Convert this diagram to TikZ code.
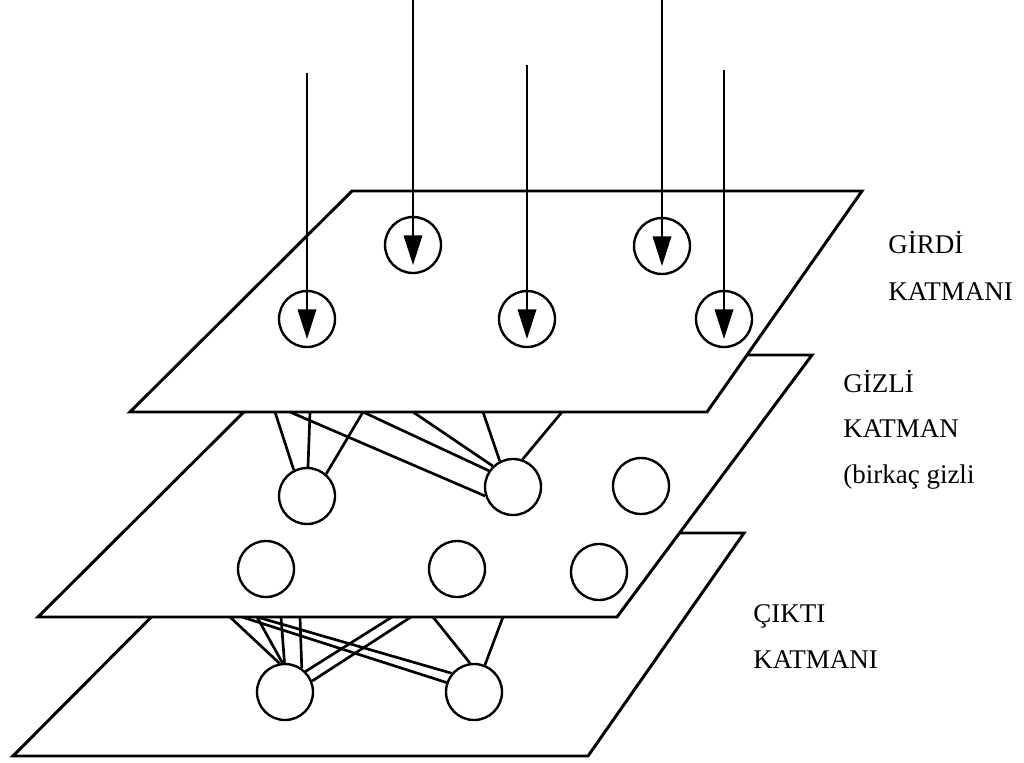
\documentclass[tikz,border=0pt]{standalone}
\usepackage{fontspec}
\setmainfont{Liberation Serif}
\usepackage{tikz}
\usetikzlibrary{arrows.meta}

\tikzset{
  plane/.style={draw, line width=2.1pt, fill=white, line join=miter},
  unit/.style={circle, draw, line width=1.7pt, fill=white, minimum size=1.4cm, inner sep=0pt},
  link/.style={line width=1.9pt},
  feed/.style={line width=1.8pt, -{Triangle[length=21pt,width=13pt]}},
  lbl/.style={anchor=base west, inner sep=0pt, font=\fontsize{19.2}{22}\selectfont}
}

\begin{document}
\begin{tikzpicture}[x=0.025cm, y=-0.025cm]
  \useasboundingbox (0,0) rectangle (1024,762);

  % output layer
  \draw[plane] (235,533) -- (744,533) -- (588,756) -- (13,756) -- cycle;
  \node[unit] (o1) at (285,692) {};
  \node[unit] (o2) at (474,692) {};

  % hidden -> output
  \coordinate (q1) at (230,617);
  \coordinate (q2) at (242,617);
  \coordinate (q3) at (257,617);
  \coordinate (q4) at (281,617);
  \coordinate (q5) at (300,617);
  \coordinate (q6) at (392,617);
  \coordinate (q7) at (411,617);
  \coordinate (q8) at (433,617);
  \coordinate (q9) at (503,617);
  \draw[link] (q1) -- (o1.101);
  \draw[link] (q3) -- (o1.95);
  \draw[link] (q4) -- (o1.91);
  \draw[link] (q5) -- (o1.55);
  \draw[link] (q6) -- (o1.45);
  \draw[link] (q7) -- (o1.22);
  \draw[link] (q2) -- (o2.161);
  \draw[link] (q3) -- (o2.140);
  \draw[link] (q8) -- (o2.98);
  \draw[link] (q9) -- (o2.68);

  % hidden layer
  \draw[plane] (301,355) -- (812,355) -- (617,617) -- (38,617) -- cycle;
  \node[unit] (h1) at (307,496) {};
  \node[unit] (h2) at (513,487) {};
  \node[unit] (h3) at (641,486) {};
  \node[unit] (h4) at (266,569) {};
  \node[unit] (h5) at (457,569) {};
  \node[unit] (h6) at (599,572) {};

  % input -> hidden
  \coordinate (p1) at (275,412);
  \coordinate (p2) at (290,412);
  \coordinate (p3) at (310,412);
  \coordinate (p4) at (363,412);
  \coordinate (p5) at (413,412);
  \coordinate (p6) at (483,412);
  \coordinate (p7) at (562,412);
  \draw[link] (p1) -- (h1.117);
  \draw[link] (p3) -- (h1.88);
  \draw[link] (p4) -- (h1.49);
  \draw[link] (p2) -- (h2.198);
  \draw[link] (p4) -- (h2.146);
  \draw[link] (p5) -- (h2.134);
  \draw[link] (p6) -- (h2.117);
  \draw[link] (p7) -- (h2.71);

  % input layer
  \draw[plane] (352,191) -- (862,191) -- (707,412) -- (130,412) -- cycle;
  \node[unit] (in1) at (307,319) {};
  \node[unit] (in2) at (413,245) {};
  \node[unit] (in3) at (527,319) {};
  \node[unit] (in4) at (662,246) {};
  \node[unit] (in5) at (724,319) {};

  % incoming signals
  \coordinate (s1) at (307,73);
  \coordinate (s2) at (413,0);
  \coordinate (s3) at (527,65);
  \coordinate (s4) at (662,0);
  \coordinate (s5) at (724,70);
  \draw[feed] (s1) -- ([yshift=-5mm]in1.center);
  \draw[feed] (s2) -- ([yshift=-5mm]in2.center);
  \draw[feed] (s3) -- ([yshift=-5mm]in3.center);
  \draw[feed] (s4) -- ([yshift=-5mm]in4.center);
  \draw[feed] (s5) -- ([yshift=-5mm]in5.center);

  % layer names
  \node[lbl] (girdi) at (888,253) {GİRDİ};
  \node[lbl] (girdik) at (888,300) {KATMANI};
  \node[lbl] (gizli) at (843,392) {GİZLİ};
  \node[lbl] (gizlik) at (843,437) {KATMAN};
  \node[lbl] (gizlib) at (843,483) {(birkaç gizli};
  \node[lbl] (cikti) at (753,622) {ÇIKTI};
  \node[lbl] (ciktik) at (753,668) {KATMANI};
\end{tikzpicture}
\end{document}
